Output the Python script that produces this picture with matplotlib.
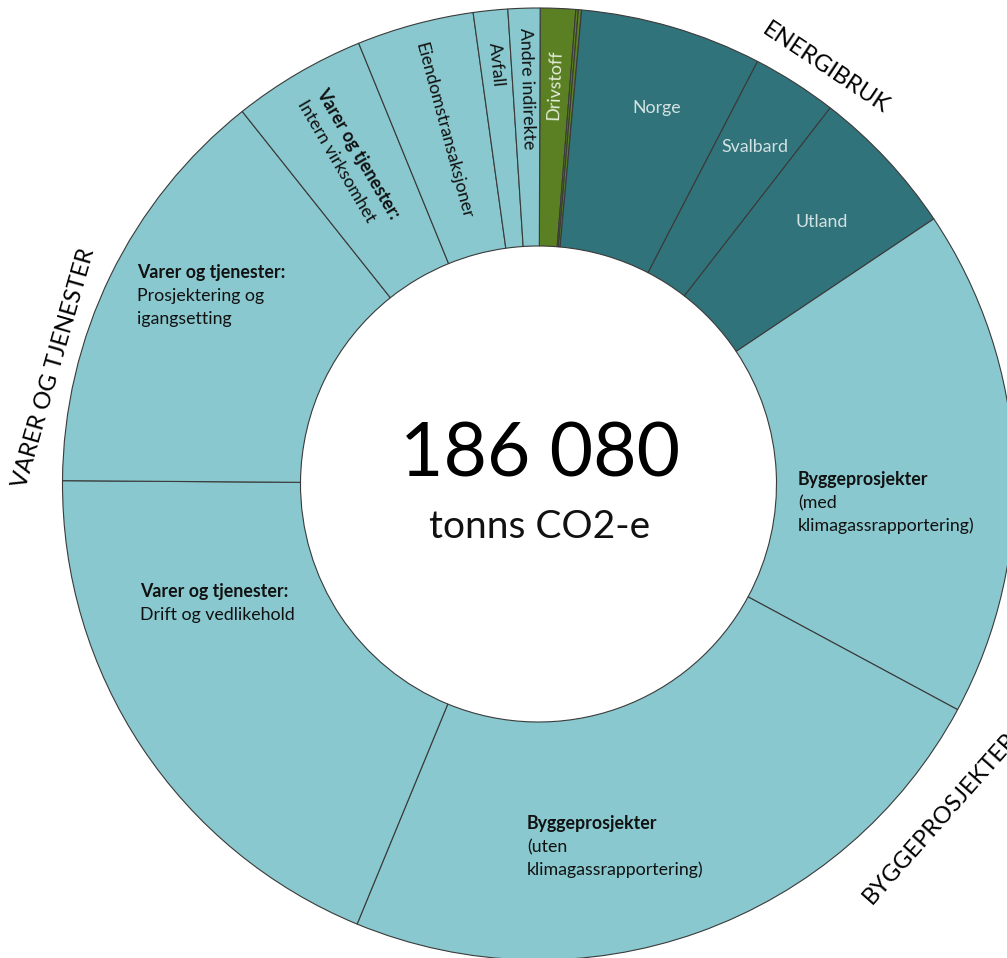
import numpy as np
import matplotlib.pyplot as plt

# Utslipp i tonn CO2-e per kategori (med klokka fra toppen)
categories = ["Drivstoff", "Drivstoff 2", "Drivstoff 3", "Norge", "Svalbard", "Utland",
              "Bygg med", "Bygg uten", "Drift", "Prosjektering", "Intern",
              "Eiendomstransaksjoner", "Avfall", "Andre indirekte"]
values = [2225, 155, 205, 11475, 5375, 9485, 32125, 43470, 35150, 26415,
          8425, 7390, 2170, 2015]
groups = ["drivstoff", "drivstoff", "drivstoff", "energi", "energi", "energi",
          "lys", "lys", "lys", "lys", "lys", "lys", "lys", "lys"]
total_label = "186 080"
unit_label = "tonns CO2-e"

W, H = 1007, 958
CX, CY = 538.5, H - 484
R_OUT, R_IN = 476, 238
START = 89.8
FS = 12.8

palette = {"drivstoff": "#5b8024", "energi": "#31737b", "lys": "#88c8ce"}
colors = [palette[g] for g in groups]

plt.rcParams['font.family'] = ['Lato', 'DejaVu Sans']

fig = plt.figure(figsize=(W / 100, H / 100), dpi=100)
ax = fig.add_axes([0, 0, 1, 1])
ax.pie(values, colors=colors, startangle=START, counterclock=False,
       center=(CX, CY), radius=R_OUT,
       wedgeprops=dict(width=R_OUT - R_IN, edgecolor="#3a3a3a", linewidth=0.8))
ax.set_xlim(0, W)
ax.set_ylim(0, H)
ax.set_aspect("equal")
ax.axis("off")

# midtvinkel for hver sektor
vals = np.array(values, dtype=float)
cum = np.cumsum(vals) - vals / 2
mid = START - cum / vals.sum() * 360


def polar(theta, r):
    t = np.radians(theta)
    return CX + r * np.cos(t), CY + r * np.sin(t)


def px(x, y):
    return x, H - y


# navn i energibruk-sektorene
for (bx, by), name in [((657, 108), "Norge"), ((755, 147), "Svalbard"), ((822, 222), "Utland")]:
    ax.text(*px(bx, by), name, ha="center", va="center", fontsize=FS, color="#d3e2e2")

# drivstoff, radielt nedenfra og opp
x, y = polar(mid[0], 400)
ax.text(x, y, "Drivstoff", rotation=mid[0], rotation_mode="anchor",
        ha="center", va="center", fontsize=FS, color="#e4ecd8")

# smale sektorer, radielt ovenfra og ned
for i, name, r in [(13, "Andre indirekte", 456), (12, "Avfall", 444),
                   (11, "Eiendomstransaksjoner", 457)]:
    x, y = polar(mid[i], r)
    ax.text(x, y, name, rotation=mid[i] - 180, rotation_mode="anchor",
            ha="left", va="center", fontsize=FS, color="#111111")

# intern virksomhet, to linjer
rot = mid[10] - 180
up = np.radians(rot + 90)
x0, y0 = polar(mid[10], 450)
for dy, txt, wt in [(11, "Varer og tjenester:", "bold"), (-11, "Intern virksomhet", "normal")]:
    ax.text(x0 + dy * np.cos(up), y0 + dy * np.sin(up), txt, rotation=rot,
            rotation_mode="anchor", ha="left", va="center", fontsize=FS,
            fontweight=wt, color="#111111")

# store sektorer
blocks = [
    (137, 278, "Varer og tjenester:", ["Prosjektering og", "igangsetting"]),
    (140, 597, "Varer og tjenester:", ["Drift og vedlikehold"]),
    (798, 485, "Byggeprosjekter", ["(med", "klimagassrapportering)"]),
    (527, 829, "Byggeprosjekter", ["(uten", "klimagassrapportering)"]),
]
for bx, by, head, lines in blocks:
    ax.text(*px(bx, by), head, ha="left", va="baseline", fontsize=FS,
            fontweight="bold", color="#111111")
    for k, ln in enumerate(lines):
        ax.text(*px(bx, by + 23 * (k + 1)), ln, ha="left", va="baseline",
                fontsize=FS, color="#111111")

# midten
ax.text(*px(540, 455), total_label, ha="center", va="center", fontsize=54, color="#000000")
ax.text(*px(540, 527), unit_label, ha="center", va="center", fontsize=28, color="#111111")

# gruppetitler
ax.text(*px(826, 68), "ENERGIBRUK", rotation=-33.6, ha="center", va="center",
        fontsize=17, color="#000000", rotation_mode="anchor")
ax.text(*px(54, 368), "VARER OG TJENESTER", rotation=74, ha="center", va="center",
        fontsize=17, color="#000000", rotation_mode="anchor")
ax.text(*px(940, 818), "BYGGEPROSJEKTER", rotation=48.5, ha="center", va="center",
        fontsize=17, color="#000000", rotation_mode="anchor")

fig.savefig("out.png", dpi=100, facecolor="white")
